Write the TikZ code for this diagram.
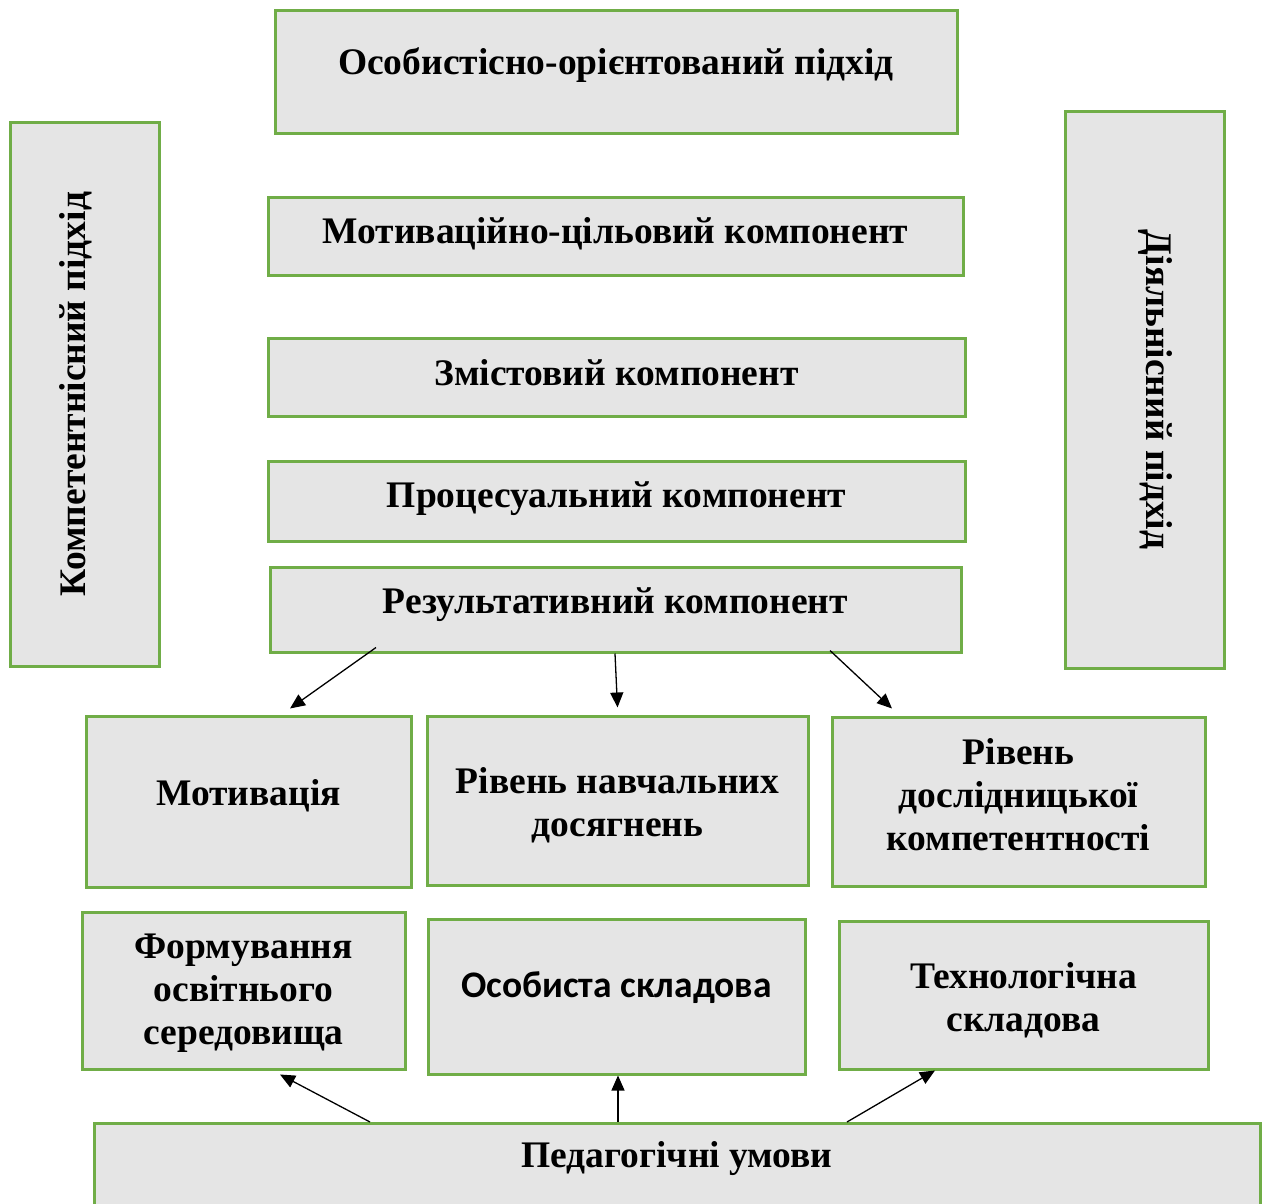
\documentclass[tikz,border=0pt]{standalone}
\usepackage{fontspec}
\setmainfont{Liberation Serif}
\newfontfamily\calibrisans{Carlito}
\usepackage{tikz}
\usetikzlibrary{arrows.meta, positioning}

\definecolor{boxgreen}{RGB}{112,173,71}
% text lifted inside its box
\newcommand{\lift}[2]{\raisebox{#1}[\height][\depth]{\begin{tabular}{@{}c@{}}#2\end{tabular}}}

\begin{document}
\begin{tikzpicture}[
    x=1pt, y=-1pt,
    box/.style={rectangle, draw=boxgreen, fill=black!10, line width=3pt,
                align=center, inner sep=0pt,
                font=\fontsize{37.5}{43}\selectfont\bfseries},
    arrow/.style={-{Triangle[length=15pt, width=13pt]}, line width=1.3pt},
]
\useasboundingbox (0,0) rectangle (1267,1203);

% Особистісно-орієнтований підхід нагорі
\node[box, minimum width=682, minimum height=123] (osobist) at (616,71.5)
    {\lift{5.5pt}{Особистісно-орієнтований підхід}};

% Бічні підходи
\node[box, minimum width=149, minimum height=544] (kompet) at (84.5,394)
    {\hspace*{-18pt}\rotatebox{90}{Компетентнісний підхід}};
\node[box, minimum width=159, minimum height=557] (diyal) at (1144.5,389.5)
    {\rotatebox{-90}{Діяльнісний підхід}\hspace*{-22pt}};

% Компоненти
\node[box, minimum width=695, minimum height=78] (motcil) at (615.5,236)
    {\lift{1pt}{Мотиваційно-цільовий компонент}};
\node[box, minimum width=697, minimum height=78] (zmist) at (616.5,377)
    {\lift{0pt}{Змістовий компонент}};
\node[box, minimum width=697, minimum height=80] (proces) at (616.5,501)
    {\lift{2pt}{Процесуальний компонент}};
\node[box, minimum width=691, minimum height=85] (rezult) at (615.5,609.5)
    {\lift{4.5pt}{Результативний компонент}};

% Результати
\node[box, minimum width=325, minimum height=171] (motiv) at (248.5,801.5)
    {\lift{4.5pt}{Мотивація}};
\node[box, minimum width=381, minimum height=169] (navch) at (617.5,800.5)
    {\lift{-5.5pt}{Рівень навчальних\\досягнень}};
\node[box, minimum width=373, minimum height=169] (doslid) at (1018.5,801.5)
    {\lift{2.5pt}{Рівень\\дослідницької\\компетентності}};

% Складові
\node[box, minimum width=323, minimum height=157] (formuv) at (243.5,990.5)
    {\lift{-2.5pt}{Формування\\освітнього\\середовища}};
\node[box, minimum width=377, minimum height=155] (osobsk) at (616.5,996.5)
    {\lift{7.5pt}{\calibrisans\bfseries Особиста складова}};
\node[box, minimum width=369, minimum height=148] (tehnol) at (1023.5,995)
    {\lift{-6pt}{Технологічна\\складова}};

% Педагогічні умови
\node[box, anchor=north, minimum width=1166, text height=44pt, text depth=74pt]
    (pedum) at (677,1122) {Педагогічні умови};

% Стрілки
\draw[arrow] ([xshift=-239.5pt, yshift=6pt]rezult.south) -- ([xshift=41.5pt, yshift=6pt]motiv.north);
\draw[arrow] ([xshift=-0.5pt]rezult.south) -- ([yshift=7pt]navch.north);
\draw[arrow] ([xshift=214.5pt, yshift=3pt]rezult.south) -- ([xshift=-126.5pt, yshift=7pt]doslid.north);
\draw[arrow] ([xshift=-307pt]pedum.north) -- ([xshift=36.5pt, yshift=-4pt]formuv.south);
\draw[arrow] ([xshift=-59pt]pedum.north) -- ([xshift=1.5pt]osobsk.south);
\draw[arrow] ([xshift=170pt]pedum.north) -- ([xshift=-88.5pt]tehnol.south);

\end{tikzpicture}
\end{document}
